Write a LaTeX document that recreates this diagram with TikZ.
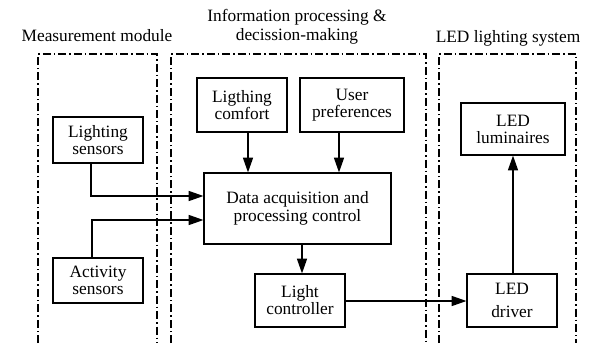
\documentclass[tikz,border=0pt]{standalone}
\usepackage{fontspec}
\setmainfont{Liberation Serif}
\usetikzlibrary{arrows.meta}
\newlength\px
\setlength\px{0.75pt}
\begin{document}
\begin{tikzpicture}[x=0.75pt, y=-0.75pt,
    font=\fontsize{13}{12.75}\selectfont,
    block/.style={draw, line width=0.9pt, align=center, inner sep=0pt},
    frame/.style={line width=0.8pt, dash pattern=on 6pt off 2.25pt on 1.1pt off 2.25pt},
    arrow/.style={line width=0.9pt, -{Triangle[length=11pt, width=7.5pt]}}]
    \useasboundingbox (0,0) rectangle (591,343);

    % Dash-dot frames of the three modules
    \draw[frame] (38,343) |- (157,54) -- (157,343);
    \draw[frame] (171,343) |- (426,54) -- (426,343);
    \draw[frame] (439,343) |- (576,54) -- (576,343);

    % Module titles
    \node (titleMeas) at (97,36) {Measurement module};
    \node[align=center] (titleInfo) at (297,27) {Information processing \&\\[1.5pt]decission-making};
    \node (titleLed) at (508,38) {LED lighting system};

    % Blocks
    \node[block, minimum width=90\px, minimum height=46\px] (lightSensors) at (98,140) {Lighting\\sensors};
    \node[block, minimum width=90\px, minimum height=45\px] (activitySensors) at (98,280.5) {Activity\\sensors};
    \node[block, minimum width=90\px, minimum height=54\px] (comfort) at (242,105) {Ligthing\\comfort};
    \node[block, minimum width=104\px, minimum height=54\px] (userPref) at (352,105) {User\\preferences};
    \node[block, minimum width=187\px, minimum height=71\px] (dataProc) at (297.5,208.5) {Data acquisition and\\[1pt]processing control};
    \node[block, minimum width=90\px, minimum height=53\px] (lightCtrl) at (300,300.5) {Light\\controller};
    \node[block, minimum width=104\px, minimum height=52\px] (ledLum) at (513,129) {LED\\luminaires};
    \node[block, minimum width=90\px, minimum height=53\px] (ledDriver) at (512,300.5) {LED\\[5pt]driver};

    % Where the connectors meet the blocks
    \coordinate (xLight) at (91,0);
    \coordinate (xAct) at (92,0);
    \coordinate (xComf) at (248,0);
    \coordinate (xPref) at (339,0);
    \coordinate (xData) at (302,0);
    \coordinate (xDrv) at (513,0);
    \coordinate (yLight) at (0,196);
    \coordinate (yAct) at (0,220);
    \coordinate (yCtrl) at (0,301);

    % Connectors
    \draw[arrow] (lightSensors.south -| xLight) |- (dataProc.west |- yLight);
    \draw[arrow] (activitySensors.north -| xAct) |- (dataProc.west |- yAct);
    \draw[arrow] (comfort.south -| xComf) -- (dataProc.north -| xComf);
    \draw[arrow] (userPref.south -| xPref) -- (dataProc.north -| xPref);
    \draw[arrow] (dataProc.south -| xData) -- (lightCtrl.north -| xData);
    \draw[arrow] (lightCtrl.east |- yCtrl) -- (ledDriver.west |- yCtrl);
    \draw[arrow] (ledDriver.north -| xDrv) -- (ledLum.south -| xDrv);

\end{tikzpicture}
\end{document}
